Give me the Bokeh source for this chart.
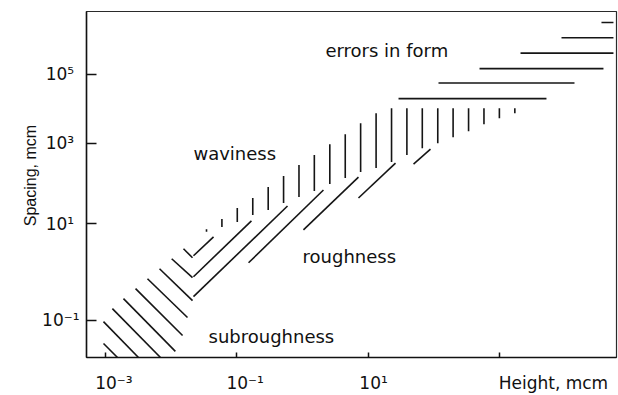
import numpy as np
from bokeh.plotting import figure
from bokeh.models import Range1d, FixedTicker, ColumnDataSource
from bokeh.embed import file_html
from bokeh.resources import INLINE
from bokeh.core.properties import value

# ---------------- data (height and spacing in mcm) ----------------
x_title = "Height, mcm"
y_title = "Spacing, mcm"
x_ticks = [1e-3, 1e-1, 1e1, 1e3]
NB = "\u00a0"
# the x title takes the place of the last tick label, to the right of its tick
x_tick_labels = [NB * 3 + "10\u207b\u00b3", NB * 3 + "10\u207b\u00b9", NB * 2 + "10\u00b9", NB * 20 + x_title]
y_ticks = [1e-1, 1e1, 1e3, 1e5]
y_tick_labels = ["10\u207b\u00b9", "10\u00b9" + NB, "10\u00b3" + NB, "10\u2075" + NB]
# the printed spacing axis is not uniform: relative length of each two-decade step
y_step_rel = [1.0, 0.834, 0.717]
x_lim = [5.08e-4, 6.10e4]
y_lim = [0.0169, 6.58e6]

# subroughness hatch ("\" strokes)
sub_h0 = [0.0153, 0.0101, 0.00659, 0.00432, 0.00284, 0.00186, 0.00126, 0.000922, 0.000922]
sub_s0 = [3.04, 1.89, 1.17, 0.728, 0.453, 0.281, 0.175, 0.094, 0.033]
sub_h1 = [0.0210, 0.0210, 0.0210, 0.0176, 0.0148, 0.0115, 0.00682, 0.00315, 0.00151]
sub_s1 = [1.98, 0.764, 0.255, 0.114, 0.0483, 0.0226, 0.0169, 0.0169, 0.0169]

# roughness hatch ("/" strokes)
rough_h0 = [0.0217, 0.0217, 0.0217, 0.150, 1.03, 7.11, 49.1]
rough_s0 = [2.18, 0.801, 0.309, 1.56, 7.52, 44.1, 307]
rough_h1 = [0.0439, 0.166, 0.589, 2.08, 7.11, 26.1, 89.1]
rough_s1 = [5.38, 11.9, 27.9, 69.6, 146, 325, 722]

# waviness hatch ("|" strokes)
wav_h = [0.0343, 0.0589, 0.101, 0.174, 0.299, 0.513, 0.881, 1.51, 2.60, 4.47, 7.67,
         13.2, 22.7, 38.9, 66.8, 115, 197, 339, 582, 1000, 1720]
wav_top = [7.69, 13.3, 24.9, 44.1, 82.6, 155, 290, 513, 960, 1850, 3860,
           7480, 10450, 10450, 10450, 10450, 10450, 10450, 10450, 10450, 10450]
wav_bot = [6.83, 8.66, 11.2, 16.7, 22.2, 33.1, 46.7, 65.8, 98.0, 138, 195,
           244, 344, 513, 764, 1020, 1520, 2270, 3610, 5370, 7480]

# errors in form hatch ("-" strokes)
form_s = [19900, 56100, 146000, 412000, 1.146e6, 3.17e6]
form_h0 = [29.0, 118, 498, 2100, 8850, 36000]
form_h1 = [5220, 13960, 38600, 54800, 54800, 54800]

# region names
region_text = ["errors in form", "waviness", "roughness", "subroughness"]
region_h = [2.23, 0.0217, 1.0, 0.0368]
region_s = [493000, 574, 2.07, 0.046]


# ---------------- non-uniform spacing axis ----------------
knots = np.log10(np.array(y_ticks))
kpos = np.concatenate([[0.0], np.cumsum(y_step_rel)])


def warp(s):
    L = np.log10(np.asarray(s, dtype=float))
    u = np.interp(L, knots, kpos)
    lo = L < knots[0]
    hi = L > knots[-1]
    u[lo] = kpos[0] + (L[lo] - knots[0]) * (kpos[1] - kpos[0]) / (knots[1] - knots[0])
    u[hi] = kpos[-1] + (L[hi] - knots[-1]) * (kpos[-1] - kpos[-2]) / (knots[-1] - knots[-2])
    return u


ylo, yhi = warp(y_lim)

p = figure(width=618, height=395, x_axis_type="log",
           x_range=Range1d(*x_lim), y_range=Range1d(ylo, yhi),
           output_backend="svg", toolbar_location=None,
           min_border_left=86, min_border_right=2, min_border_top=11, min_border_bottom=37)
p.xgrid.visible = False
p.ygrid.visible = False
p.outline_line_color = "#2a2a2a"
p.outline_line_width = 1.2
p.background_fill_color = "white"
p.border_fill_color = "white"

LC = "#151515"
LW = 1.6

src = ColumnDataSource(dict(x0=sub_h0, y0=warp(sub_s0), x1=sub_h1, y1=warp(sub_s1)))
p.segment("x0", "y0", "x1", "y1", source=src, line_color=LC, line_width=LW)

src = ColumnDataSource(dict(x0=rough_h0, y0=warp(rough_s0), x1=rough_h1, y1=warp(rough_s1)))
p.segment("x0", "y0", "x1", "y1", source=src, line_color=LC, line_width=LW)

src = ColumnDataSource(dict(x0=wav_h, y0=warp(wav_bot), x1=wav_h, y1=warp(wav_top)))
p.segment("x0", "y0", "x1", "y1", source=src, line_color=LC, line_width=LW)

src = ColumnDataSource(dict(x0=form_h0, y0=warp(form_s), x1=form_h1, y1=warp(form_s)))
p.segment("x0", "y0", "x1", "y1", source=src, line_color=LC, line_width=LW)

p.text(x=region_h, y=warp(region_s), text=region_text,
       text_font=value("DejaVu Sans"), text_font_size="18px",
       text_align="left", text_baseline="alphabetic", text_color="#111111")

# axes
yt = [float(v) for v in warp(y_ticks)]
p.xaxis.ticker = FixedTicker(ticks=x_ticks)
p.xaxis.major_label_overrides = {t: l for t, l in zip(x_ticks, x_tick_labels)}
p.yaxis.ticker = FixedTicker(ticks=yt)
p.yaxis.major_label_overrides = {t: l for t, l in zip(yt, y_tick_labels)}

for ax in (p.xaxis, p.yaxis):
    ax.minor_tick_line_color = None
    ax.major_tick_out = 0
    ax.axis_line_color = "#111111"
    ax.axis_line_width = 1.5
    ax.major_tick_line_color = "#111111"
    ax.major_tick_line_width = 1.5
    ax.major_label_text_font = "DejaVu Sans"
    ax.major_label_text_font_size = "17px"
    ax.major_label_text_color = "#111111"
    ax.axis_label_text_color = "#111111"
    ax.axis_label_text_font_style = "normal"
p.xaxis.major_tick_in = 5
p.yaxis.major_tick_in = 10
p.xaxis.major_label_standoff = 15
p.yaxis.major_label_standoff = 7

# y title, nudged upward from the frame centre
p.yaxis.axis_label = NB * 4 + y_title
p.yaxis.axis_label_text_font = "Liberation Sans"
p.yaxis.axis_label_text_font_size = "16px"
p.yaxis.axis_label_standoff = 0

open("out.html", "w").write(file_html(p, INLINE))
